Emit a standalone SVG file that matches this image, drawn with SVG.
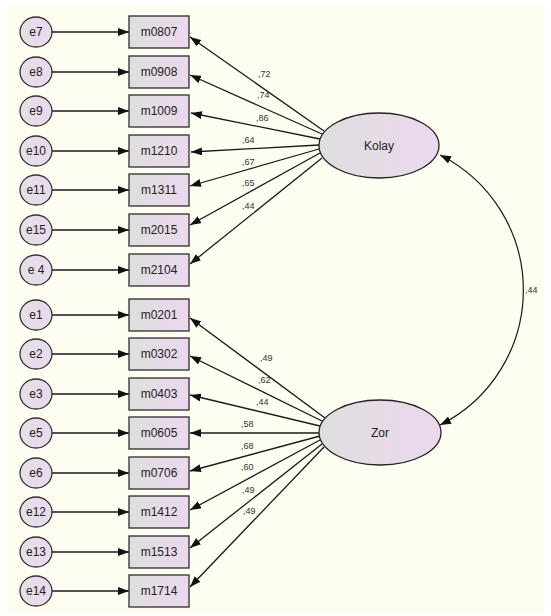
<svg xmlns="http://www.w3.org/2000/svg" width="551" height="616" viewBox="0 0 551 616">
<style>
.ln{stroke:#1a1a1a;stroke-width:1.3;fill:none;marker-end:url(#ah)}
.box{fill:url(#g);stroke:#3a3a3a;stroke-width:1.4}
.err{fill:url(#gc);stroke:#333;stroke-width:1.3}
.lat{fill:url(#g);stroke:#222;stroke-width:1.3}
.t{font-family:"Liberation Sans",Arial,sans-serif;font-size:12px;fill:#222;text-anchor:middle;dominant-baseline:central}
.w{font-family:"Liberation Sans",Arial,sans-serif;font-size:9px;fill:#333;dominant-baseline:central}
</style>
<defs>
<linearGradient id="g" x1="0" y1="0" x2="1" y2="0">
<stop offset="0" stop-color="#dedede"/>
<stop offset="1" stop-color="#ecd8ee"/>
</linearGradient>
<linearGradient id="gc" x1="0" y1="0" x2="1" y2="0">
<stop offset="0" stop-color="#e4e0e6"/>
<stop offset="1" stop-color="#ead9ee"/>
</linearGradient>
<marker id="ah" markerUnits="userSpaceOnUse" markerWidth="11" markerHeight="8" refX="11" refY="4" orient="auto-start-reverse">
<path d="M0,0 L11,4 L0,8 z" fill="#111"/>
</marker>
</defs>
<rect x="0" y="0" width="551" height="616" fill="#ffffff"/>
<rect x="7" y="5" width="538" height="608" fill="#fdfdf2"/>

<g id="connectors">
<line class="ln" x1="52" y1="32" x2="129" y2="32"/>
<line class="ln" x1="52" y1="72" x2="129" y2="72"/>
<line class="ln" x1="52" y1="111" x2="129" y2="111"/>
<line class="ln" x1="52" y1="151" x2="129" y2="151"/>
<line class="ln" x1="52" y1="190" x2="129" y2="190"/>
<line class="ln" x1="52" y1="230" x2="129" y2="230"/>
<line class="ln" x1="52" y1="270" x2="129" y2="270"/>
<line class="ln" x1="52" y1="315" x2="129" y2="315"/>
<line class="ln" x1="52" y1="354" x2="129" y2="354"/>
<line class="ln" x1="52" y1="394" x2="129" y2="394"/>
<line class="ln" x1="52" y1="433" x2="129" y2="433"/>
<line class="ln" x1="52" y1="473" x2="129" y2="473"/>
<line class="ln" x1="52" y1="512" x2="129" y2="512"/>
<line class="ln" x1="52" y1="552" x2="129" y2="552"/>
<line class="ln" x1="52" y1="591" x2="129" y2="591"/>
<line class="ln" x1="324" y1="131" x2="190" y2="37"/>
<line class="ln" x1="322" y1="134" x2="190" y2="75"/>
<line class="ln" x1="320" y1="139" x2="191" y2="113"/>
<line class="ln" x1="319" y1="145" x2="191" y2="152"/>
<line class="ln" x1="319" y1="149" x2="190" y2="186"/>
<line class="ln" x1="320" y1="153" x2="190" y2="225"/>
<line class="ln" x1="322" y1="158" x2="190" y2="264"/>
<line class="ln" x1="325" y1="418" x2="190" y2="318"/>
<line class="ln" x1="322" y1="421" x2="190" y2="356"/>
<line class="ln" x1="320" y1="426" x2="190" y2="395"/>
<line class="ln" x1="319" y1="433" x2="190" y2="433"/>
<line class="ln" x1="320" y1="436" x2="190" y2="471"/>
<line class="ln" x1="320" y1="440" x2="190" y2="510"/>
<line class="ln" x1="322" y1="444" x2="190" y2="548"/>
<line class="ln" x1="324" y1="447" x2="190" y2="587"/>
<path class="ln" d="M440,155 A151,151 0 0 1 440,425" style="marker-start:url(#ah);stroke-width:1.2"/>
<text class="w" x="258" y="74">,72</text>
<text class="w" x="257" y="95">,74</text>
<text class="w" x="256" y="118">,86</text>
<text class="w" x="242" y="140">,64</text>
<text class="w" x="242" y="162">,67</text>
<text class="w" x="242" y="183">,65</text>
<text class="w" x="242" y="206">,44</text>
<text class="w" x="260" y="358">,49</text>
<text class="w" x="258" y="380">,62</text>
<text class="w" x="256" y="402">,44</text>
<text class="w" x="241" y="424">,58</text>
<text class="w" x="241" y="446">,68</text>
<text class="w" x="241" y="467">,60</text>
<text class="w" x="242" y="490">,49</text>
<text class="w" x="243" y="511">,49</text>
<text class="w" x="525" y="290">,44</text>
</g>

<g id="Kolay"><ellipse class="lat" cx="379" cy="145.5" rx="60" ry="32.5"/><text class="t" x="379" y="145.5">Kolay</text></g>
<g id="Zor"><ellipse class="lat" cx="380" cy="432.5" rx="61" ry="32.5"/><text class="t" x="380" y="432.5">Zor</text></g>

<g id="m0807"><rect class="box" x="129" y="16" width="60" height="32"/><text class="t" x="159" y="32">m0807</text></g>
<g id="m0908"><rect class="box" x="129" y="56" width="60" height="32"/><text class="t" x="159" y="72">m0908</text></g>
<g id="m1009"><rect class="box" x="129" y="95" width="60" height="32"/><text class="t" x="159" y="111">m1009</text></g>
<g id="m1210"><rect class="box" x="129" y="135" width="60" height="32"/><text class="t" x="159" y="151">m1210</text></g>
<g id="m1311"><rect class="box" x="129" y="174" width="60" height="32"/><text class="t" x="159" y="190">m1311</text></g>
<g id="m2015"><rect class="box" x="129" y="214" width="60" height="32"/><text class="t" x="159" y="230">m2015</text></g>
<g id="m2104"><rect class="box" x="129" y="254" width="60" height="32"/><text class="t" x="159" y="270">m2104</text></g>
<g id="m0201"><rect class="box" x="129" y="299" width="60" height="32"/><text class="t" x="159" y="315">m0201</text></g>
<g id="m0302"><rect class="box" x="129" y="338" width="60" height="32"/><text class="t" x="159" y="354">m0302</text></g>
<g id="m0403"><rect class="box" x="129" y="378" width="60" height="32"/><text class="t" x="159" y="394">m0403</text></g>
<g id="m0605"><rect class="box" x="129" y="417" width="60" height="32"/><text class="t" x="159" y="433">m0605</text></g>
<g id="m0706"><rect class="box" x="129" y="457" width="60" height="32"/><text class="t" x="159" y="473">m0706</text></g>
<g id="m1412"><rect class="box" x="129" y="496" width="60" height="32"/><text class="t" x="159" y="512">m1412</text></g>
<g id="m1513"><rect class="box" x="129" y="536" width="60" height="32"/><text class="t" x="159" y="552">m1513</text></g>
<g id="m1714"><rect class="box" x="129" y="575" width="60" height="32"/><text class="t" x="159" y="591">m1714</text></g>

<g id="e7"><ellipse class="err" cx="36" cy="32" rx="16" ry="15"/><text class="t" x="36" y="32">e7</text></g>
<g id="e8"><ellipse class="err" cx="36" cy="72" rx="16" ry="15"/><text class="t" x="36" y="72">e8</text></g>
<g id="e9"><ellipse class="err" cx="36" cy="111" rx="16" ry="15"/><text class="t" x="36" y="111">e9</text></g>
<g id="e10"><ellipse class="err" cx="36" cy="151" rx="16" ry="15"/><text class="t" x="36" y="151">e10</text></g>
<g id="e11"><ellipse class="err" cx="36" cy="190" rx="16" ry="15"/><text class="t" x="36" y="190">e11</text></g>
<g id="e15"><ellipse class="err" cx="36" cy="230" rx="16" ry="15"/><text class="t" x="36" y="230">e15</text></g>
<g id="e4"><ellipse class="err" cx="36" cy="270" rx="16" ry="15"/><text class="t" x="36" y="270">e 4</text></g>
<g id="e1"><ellipse class="err" cx="36" cy="315" rx="16" ry="15"/><text class="t" x="36" y="315">e1</text></g>
<g id="e2"><ellipse class="err" cx="36" cy="354" rx="16" ry="15"/><text class="t" x="36" y="354">e2</text></g>
<g id="e3"><ellipse class="err" cx="36" cy="394" rx="16" ry="15"/><text class="t" x="36" y="394">e3</text></g>
<g id="e5"><ellipse class="err" cx="36" cy="433" rx="16" ry="15"/><text class="t" x="36" y="433">e5</text></g>
<g id="e6"><ellipse class="err" cx="36" cy="473" rx="16" ry="15"/><text class="t" x="36" y="473">e6</text></g>
<g id="e12"><ellipse class="err" cx="36" cy="512" rx="16" ry="15"/><text class="t" x="36" y="512">e12</text></g>
<g id="e13"><ellipse class="err" cx="36" cy="552" rx="16" ry="15"/><text class="t" x="36" y="552">e13</text></g>
<g id="e14"><ellipse class="err" cx="36" cy="591" rx="16" ry="15"/><text class="t" x="36" y="591">e14</text></g>
</svg>
